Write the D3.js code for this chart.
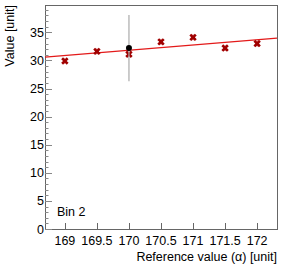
<!DOCTYPE html>
<html>
<head>
<meta charset="utf-8">
<script src="https://cdn.jsdelivr.net/npm/d3@7"></script>
<style>
  body { margin:0; background:#fff; }
  text { font-family: "Liberation Sans", Arial, sans-serif; fill:#000; }
</style>
</head>
<body>
<div id="chart"></div>
<script>
// data
var xs = [169, 169.5, 170, 170.5, 171, 171.5, 172];
var ys = [29.9, 31.6, 31.1, 33.3, 34.1, 32.2, 33.0];
var yErr = [0.35, 0.35, 0.35, 0.35, 0.35, 0.35, 0.35];
var refX = [170];
var refY = [32.2];
var refErr = [5.9];
var fitX = [168.69, 172.31];
var fitY = [30.57, 33.95];
var xTicks = [169, 169.5, 170, 170.5, 171, 171.5, 172];
var yTicks = [0, 5, 10, 15, 20, 25, 30, 35];

var W = 283, H = 274;
var L = 45, R = 277, T = 5, B = 229;
var fs = 12.5;

var svg = d3.select('#chart').append('svg')
  .attr('width', W)
  .attr('height', H);

var x = d3.scaleLinear().domain([168.69, 172.31]).range([L, R]);
var y = d3.scaleLinear().domain([0, 39.86]).range([B, T]);

// frame
svg.append('rect')
  .attr('x', L + 0.5).attr('y', T + 0.5)
  .attr('width', R - L).attr('height', B - T)
  .attr('fill', 'none').attr('stroke', '#666').attr('stroke-width', 1);

// y axis ticks (major every 5, minor every 1)
svg.append('g').selectAll('line')
  .data(d3.range(0, 40, 1))
  .enter().append('line')
  .attr('x1', L).attr('x2', function(d) { return d % 5 === 0 ? L + 7 : L + 3.5; })
  .attr('y1', function(d) { return Math.round(y(d)) + 0.5; })
  .attr('y2', function(d) { return Math.round(y(d)) + 0.5; })
  .attr('stroke', '#888');

svg.append('g').selectAll('text')
  .data(yTicks)
  .enter().append('text')
  .attr('x', L - 1).attr('y', function(d) { return y(d) + 4.5; })
  .attr('text-anchor', 'end')
  .attr('font-size', fs)
  .text(function(d) { return d; });

// x axis ticks
svg.append('g').selectAll('line')
  .data(xTicks)
  .enter().append('line')
  .attr('x1', function(d) { return Math.round(x(d)) + 0.5; })
  .attr('x2', function(d) { return Math.round(x(d)) + 0.5; })
  .attr('y1', B).attr('y2', B - 6)
  .attr('stroke', '#666');

svg.append('g').selectAll('text')
  .data(xTicks)
  .enter().append('text')
  .attr('x', function(d) { return x(d); }).attr('y', 245)
  .attr('text-anchor', 'middle')
  .attr('font-size', fs)
  .text(function(d) { return d; });

// titles
svg.append('text')
  .attr('x', R).attr('y', 261)
  .attr('text-anchor', 'end')
  .attr('font-size', fs)
  .text('Reference value (\u03b1) [unit]');

svg.append('text')
  .attr('transform', 'translate(14,' + T + ') rotate(-90)')
  .attr('text-anchor', 'end')
  .attr('font-size', fs)
  .text('Value [unit]');

svg.append('text')
  .attr('x', 57).attr('y', 216)
  .attr('font-size', fs)
  .text('Bin 2');

// fit line
svg.append('line')
  .attr('x1', x(fitX[0])).attr('y1', y(fitY[0]))
  .attr('x2', x(fitX[1])).attr('y2', y(fitY[1]))
  .attr('stroke', '#e31a1a').attr('stroke-width', 1.3);

// red points with small errors
var pts = svg.append('g');
xs.forEach(function(v, i) {
  pts.append('line')
    .attr('x1', x(v)).attr('x2', x(v))
    .attr('y1', y(ys[i] - yErr[i]) + 1).attr('y2', y(ys[i] + yErr[i]) - 1)
    .attr('stroke', '#e06060').attr('stroke-width', 1);
  pts.append('path')
    .attr('d', d3.symbol().type(d3.symbolCross).size(34)())
    .attr('transform', 'translate(' + x(v) + ',' + y(ys[i]) + ') rotate(45)')
    .attr('fill', '#a00000');
});

// reference point
svg.append('line')
  .attr('x1', x(refX[0])).attr('x2', x(refX[0]))
  .attr('y1', y(refY[0] - refErr[0])).attr('y2', y(refY[0] + refErr[0]))
  .attr('stroke', '#aaa').attr('stroke-width', 1.2);
svg.append('circle')
  .attr('cx', x(refX[0])).attr('cy', y(refY[0]))
  .attr('r', 3).attr('fill', '#000');
</script>
</body>
</html>
